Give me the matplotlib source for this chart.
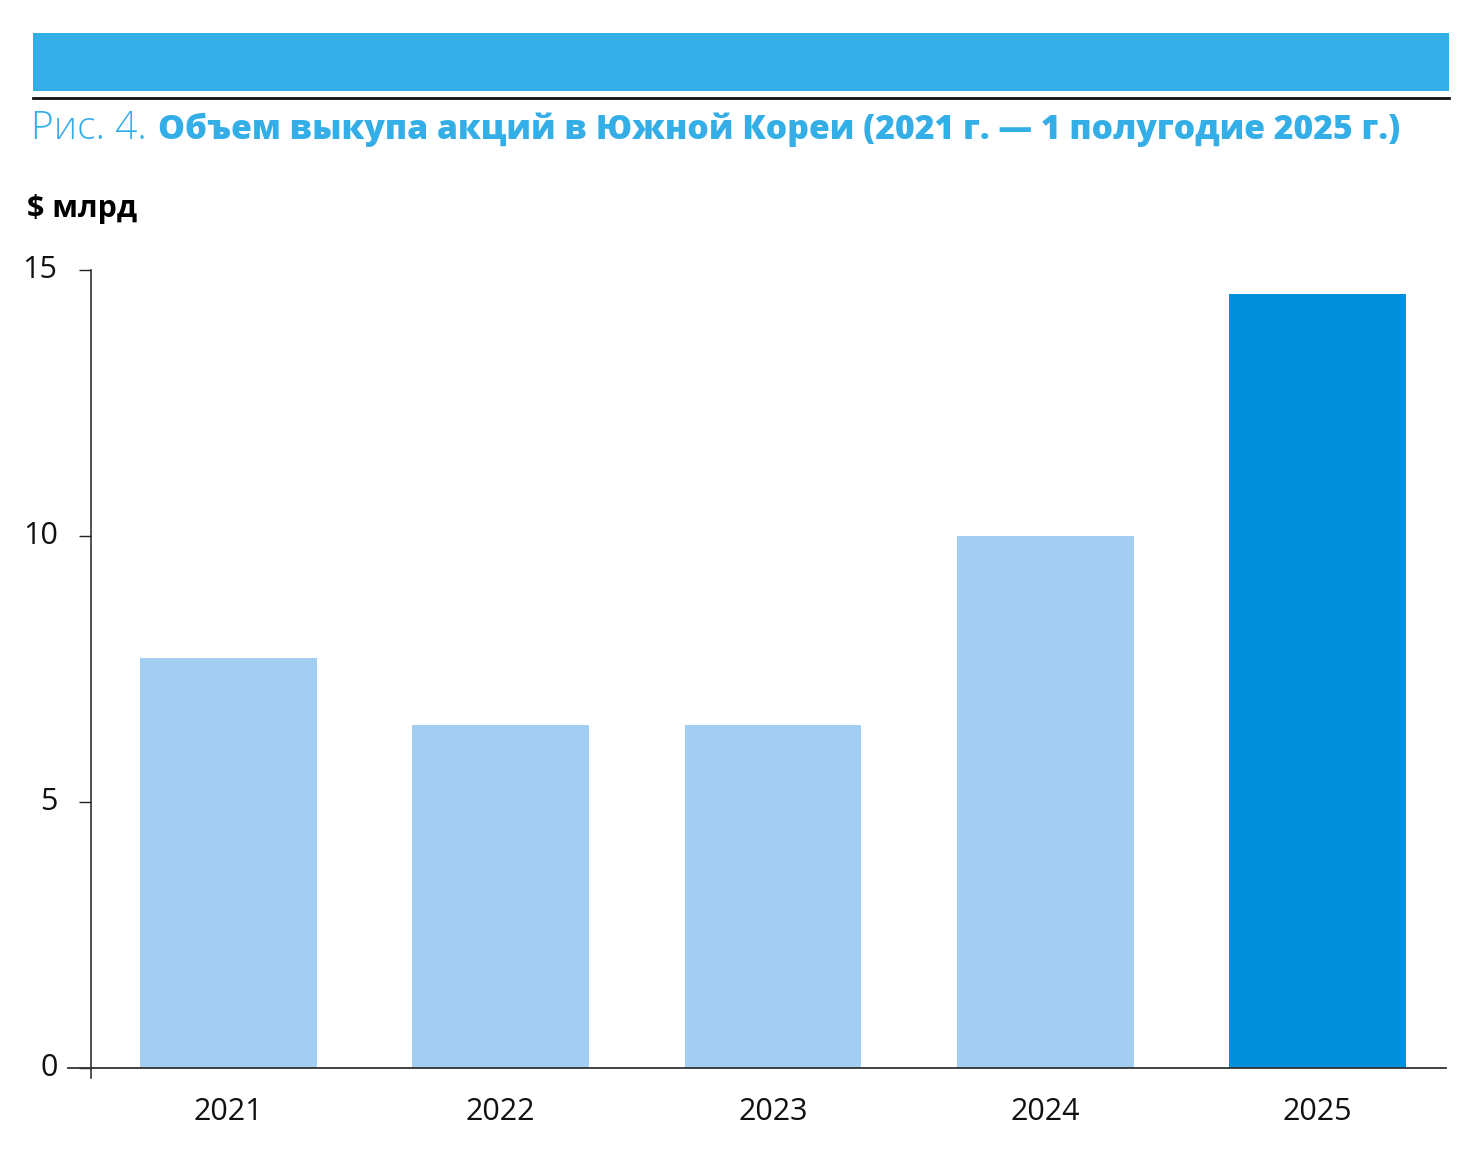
import matplotlib.pyplot as plt
import matplotlib.transforms as mtransforms
from matplotlib.patches import Rectangle
from matplotlib.lines import Line2D

# data
years = ["2021", "2022", "2023", "2024", "2025"]
buyback_bn = [7.71, 6.45, 6.45, 10.0, 14.55]
bar_colors = ["#A3CEF1", "#A3CEF1", "#A3CEF1", "#A3CEF1", "#0091DA"]
y_ticks = [0, 5, 10, 15]

W, H = 1479, 1157
plt.rcParams["font.family"] = ["Open Sans", "DejaVu Sans"]

fig = plt.figure(figsize=(W / 100, H / 100), dpi=100)


def fx(px):
    return px / W


def fy(px):
    return 1 - px / H


# header band and rule
fig.patches.append(Rectangle((fx(33), fy(91)), fx(1449 - 33), (91 - 33) / H,
                             transform=fig.transFigure, color="#33AEE6", lw=0))
fig.lines.append(Line2D([fx(33), fx(1449)], [fy(97.5), fy(97.5)],
                        transform=fig.transFigure, color="#111111", lw=2.0))

# title
fig.text(fx(31), fy(139), "Рис. 4.", fontsize=28, color="#33AEE6",
         fontweight="light", va="baseline", ha="left")
fig.text(fx(158), fy(139),
         "Объем выкупа акций в Южной Кореи (2021 г. — 1 полугодие 2025 г.)",
         fontsize=24.3, color="#33AEE6", fontweight="heavy", va="baseline",
         ha="left", fontstretch="condensed")

# unit label
fig.text(fx(27), fy(209), "$ млрд", fontsize=22, fontweight="bold",
         color="black", va="center", ha="left")

# axes
ax = fig.add_axes([fx(91), fy(1078), fx(1446 - 91), (1078 - 270) / H])
x = range(len(years))
ax.bar(x, buyback_bn, width=0.65, color=bar_colors, zorder=2)

ax.set_xlim(-0.505, 4.472)
ax.set_ylim(-10 / 53.2, 15)

for side in ["top", "right", "bottom"]:
    ax.spines[side].set_visible(False)
ax.spines["left"].set_color("#222222")
ax.spines["left"].set_linewidth(1.1)

# zero line, extending left past the axis like a tick
ax.plot([-0.505 - 23 / 272, 4.472], [0, 0], color="#333333", lw=1.3,
        clip_on=False, zorder=3)

ax.set_yticks(y_ticks)
ax.set_yticklabels([str(v) for v in y_ticks])
ax.tick_params(axis="y", length=9, width=1.0, color="#222222", pad=15,
               labelsize=22, labelcolor="#111111")
ax.set_xticks(list(x))
ax.set_xticklabels(years)
ax.tick_params(axis="x", length=0, pad=14, labelsize=22, labelcolor="#111111")

# nudge y tick labels up a little
shift = mtransforms.ScaledTranslation(0, 4 / 100, fig.dpi_scale_trans)
for lab in ax.get_yticklabels():
    lab.set_transform(lab.get_transform() + shift)

fig.savefig("out.png", dpi=100)
